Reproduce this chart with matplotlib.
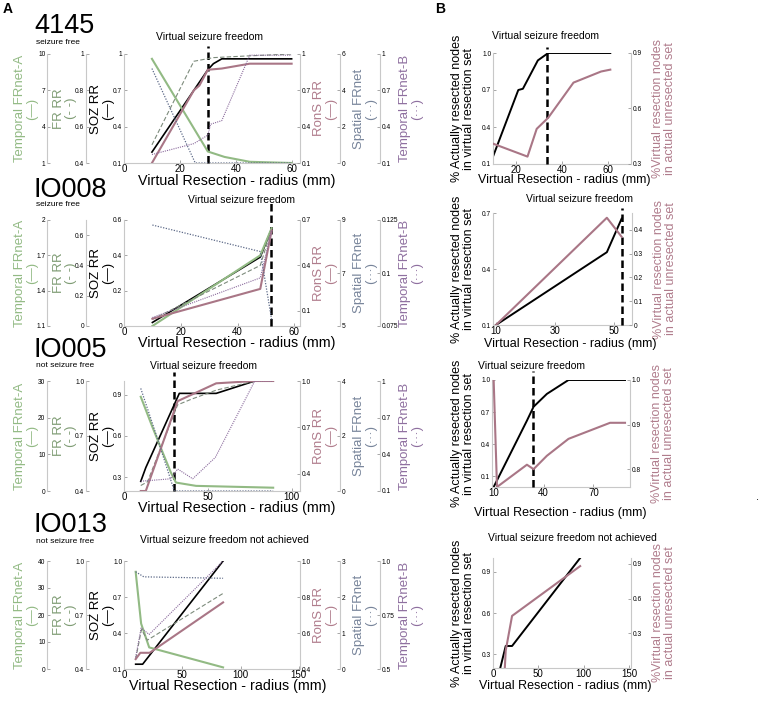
import matplotlib
matplotlib.use('Agg')
import matplotlib.pyplot as plt

W, H = 760, 701
plt.rcParams['font.family'] = ['Liberation Sans', 'DejaVu Sans']

# ---- colours
GREEN = '#92ba84'
FR_GREEN = '#7f9c74'
FR_LINE = '#7d8b7c'
MAUVE = '#b07c8c'
MAUVE_LINE = '#a97686'
SLATE = '#77849a'
SLATE_LINE = '#5d6a88'
PURPLE = '#8e6f9f'
PURPLE_LINE = '#8a6a9c'
SPINE = '#c8c8c8'

# ---- panel A, patient 4145
R1_X_TICKS = ['0', '20', '40', '60']
R1_SOZ_X = [10, 30, 32, 35, 60]
R1_SOZ_Y = [0.19, 0.87, 0.92, 0.96, 0.96]
R1_TA_X = [10, 30, 36, 45, 60]
R1_TA_Y = [9.6, 1.95, 1.5, 1.1, 1.0]
R1_FR_X = [10, 25, 32, 45, 60]
R1_FR_Y = [0.5, 0.96, 0.98, 0.99, 1.0]
R1_RONS_X = [10, 25, 27, 30, 35, 45, 60]
R1_RONS_Y = [0.1, 0.70, 0.74, 0.87, 0.88, 0.92, 0.92]
R1_SP_X = [10, 25.5, 60]
R1_SP_Y = [5.2, 0, 0]
R1_TB_X = [10, 25, 30, 31, 35, 45, 60]
R1_TB_Y = [0.17, 0.26, 0.33, 0.42, 0.45, 0.99, 0.99]
R1_TICKS_TA = ['1', '4', '7', '10']
R1_TICKS_FR = ['0.4', '0.6', '0.8', '1']
R1_TICKS_SOZ = ['0.1', '0.4', '0.7', '1']
R1_TICKS_RONS = ['0.1', '0.4', '0.7', '1']
R1_TICKS_SP = ['0', '2', '4', '6']
R1_TICKS_TB = ['0.1', '0.4', '0.7', '1']
R1_VLINE = 30

# ---- panel A, patient IO008
R2_X_TICKS = ['0', '20', '40', '60']
R2_SOZ_X = [10, 48, 52]
R2_SOZ_Y = [0.02, 0.39, 0.55]
R2_TA_X = [10, 48, 52]
R2_TA_Y = [1.1, 1.70, 1.93]
R2_FR_X = [10, 48, 52]
R2_FR_Y = [0.044, 0.40, 0.64]
R2_RONS_X = [10, 48, 52]
R2_RONS_Y = [0.048, 0.245, 0.63]
R2_SP_X = [10, 48, 52]
R2_SP_Y = [8.81, 7.81, 5.25]
R2_TB_X = [10, 48, 52]
R2_TB_Y = [0.079, 0.0977, 0.120]
R2_TICKS_TA = ['1.1', '1.4', '1.7', '2']
R2_TICKS_FR = ['0', '0.2', '0.4', '0.6']
R2_TICKS_SOZ = ['0', '0.2', '0.4', '0.6']
R2_TICKS_RONS = ['0.1', '0.4', '0.7']
R2_TICKS_SP = ['5', '7', '9']
R2_TICKS_TB = ['0.075', '0.1', '0.125']
R2_VLINE = 51.8

# ---- panel A, patient IO005
R3_X_TICKS = ['0', '50', '100']
R3_SOZ_X = [10, 13, 33, 55, 78, 89]
R3_SOZ_Y = [0.27, 0.37, 0.91, 0.91, 1.0, 1.0]
R3_TA_X = [10, 17, 23, 28, 31, 43, 89]
R3_TA_Y = [25.7, 17.4, 10.6, 5.0, 2.3, 1.4, 0.9]
R3_FR_X = [10, 14, 32, 40, 55, 78, 89]
R3_FR_Y = [0.43, 0.45, 0.87, 0.90, 0.95, 1.0, 1.0]
R3_RONS_X = [10, 13, 32, 55, 78, 89]
R3_RONS_Y = [0.29, 0.29, 0.87, 0.985, 1.0, 1.0]
R3_SP_X = [10, 20, 30, 89]
R3_SP_Y = [3.73, 1.9, 0, 0]
R3_TB_X = [10, 28, 32, 41, 54.5, 78, 89]
R3_TB_Y = [0.18, 0.20, 0.28, 0.20, 0.375, 1.0, 1.0]
R3_TICKS_TA = ['0', '10', '20', '30']
R3_TICKS_FR = ['0.4', '0.7', '1.0']
R3_TICKS_SOZ = ['0.3', '0.6', '0.9']
R3_TICKS_RONS = ['0.4', '0.7', '1.0']
R3_TICKS_SP = ['0', '2', '4']
R3_TICKS_TB = ['0.1', '0.4', '0.7', '1']
R3_VLINE = 29.9

# ---- panel A, patient IO013
R4_X_TICKS = ['0', '50', '100', '150']
R4_SOZ_X = [10, 16, 85]
R4_SOZ_Y = [0.14, 0.14, 1.0]
R4_TA_X = [10, 14.7, 21.6, 85]
R4_TA_Y = [36, 16.8, 8, 0.6]
R4_FR_X = [10, 15, 20, 85]
R4_FR_Y = [0.455, 0.62, 0.56, 0.82]
R4_RONS_X = [10, 14, 22, 85]
R4_RONS_Y = [0.455, 0.49, 0.49, 0.77]
R4_SP_X = [10, 17, 85]
R4_SP_Y = [2.7, 2.56, 2.52]
R4_TB_X = [10, 14.7, 21.6, 85]
R4_TB_Y = [0.554, 0.69, 0.66, 1.0]
R4_TICKS_TA = ['0', '10', '20', '30', '40']
R4_TICKS_FR = ['0.4', '0.7', '1.0']
R4_TICKS_SOZ = ['0.1', '0.4', '0.7', '1.0']
R4_TICKS_RONS = ['0.4', '0.6', '0.8', '1.0']
R4_TICKS_SP = ['0', '1', '2', '3']
R4_TICKS_TB = ['0.5', '0.75', '1.0']

# ---- panel B
B1_X_TICKS = ['20', '40', '60']
B1_ACT_X = [10, 21, 23, 29.5, 31, 34, 61]
B1_ACT_Y = [0.16, 0.70, 0.71, 0.94, 0.96, 1.0, 1.0]
B1_VIRT_X = [10, 25, 29, 34, 45, 57, 61]
B1_VIRT_Y = [0.41, 0.34, 0.49, 0.55, 0.74, 0.80, 0.81]
B1_TICKS_L = ['0.1', '0.4', '0.7', '1.0']
B1_TICKS_R = ['0.3', '0.6', '0.9']
B1_VLINE = 33.5

B2_X_TICKS = ['10', '30', '50']
B2_ACT_X = [10, 47.5, 52.5]
B2_ACT_Y = [0.1, 0.49, 0.67]
B2_VIRT_X = [10, 47.5, 52.5]
B2_VIRT_Y = [0, 0.45, 0.37]
B2_TICKS_L = ['0.1', '0.4', '0.7']
B2_TICKS_R = ['0', '0.1', '0.2', '0.3', '0.4']
B2_VLINE = 52.6

B3_X_TICKS = ['10', '40', '70']
B3_ACT_X = [10, 30, 34, 42, 55, 89]
B3_ACT_Y = [0.0, 0.62, 0.75, 0.87, 1.0, 1.0]
B3_VIRT_X = [10, 12, 30, 34, 42, 55, 80, 89]
B3_VIRT_Y = [1.0, 0.76, 0.81, 0.80, 0.83, 0.868, 0.904, 0.904]
B3_TICKS_L = ['0.1', '0.4', '0.7', '1.0']
B3_TICKS_R = ['0.8', '0.9', '1.0']
B3_VLINE = 33.6

B4_X_TICKS = ['0', '50', '100', '150']
B4_ACT_X = [8, 14, 21, 96]
B4_ACT_Y = [0.2, 0.36, 0.36, 1.0]
B4_VIRT_X = [13, 14, 21, 96]
B4_VIRT_Y = [0, 0.15, 0.45, 0.88]
B4_TICKS_L = ['0.3', '0.6', '0.9']
B4_TICKS_R = ['0.3', '0.6', '0.9']

fig = plt.figure(figsize=(W / 100, H / 100), dpi=100)


def px_axes(x0, y0, x1, y1):
    return fig.add_axes([x0 / W, 1 - y1 / H, (x1 - x0) / W, (y1 - y0) / H])


def ftext(x, y, s, **kw):
    return fig.text(x / W, 1 - y / H, s, **kw)


def set_ticks(a, ticks):
    a.set_yticks([float(t) for t in ticks], ticks)
    a.tick_params(axis='y', direction='in', length=2.5, width=0.6,
                  color='#999999', labelsize=4.8, pad=1.2)


def scale_axis(host, side, offset_px, lim, ticks):
    a = host.twinx()
    for s in a.spines.values():
        s.set_visible(False)
    sp = a.spines[side]
    sp.set_visible(True)
    sp.set_color(SPINE)
    sp.set_linewidth(0.8)
    sp.set_position(('outward', offset_px * 0.72))
    a.yaxis.set_ticks_position(side)
    a.set_ylim(*lim)
    set_ticks(a, ticks)
    return a


def base_axes(x0, top, x1, bot, xlim, xticks):
    ax = px_axes(x0, top, x1, bot)
    ax.patch.set_visible(False)
    for side in ['top', 'right']:
        ax.spines[side].set_visible(False)
    for side in ['left', 'bottom']:
        ax.spines[side].set_color(SPINE)
        ax.spines[side].set_linewidth(0.8)
    ax.set_xlim(*xlim)
    ax.set_xticks([float(t) for t in xticks], xticks)
    ax.tick_params(axis='x', direction='in', length=2.5, width=0.6,
                   color='#999999', labelsize=7, pad=1)
    return ax


def vline(ax, x, ymax):
    ax.axvline(x, ymin=0, ymax=ymax, color='black', lw=1.8,
               dashes=(3, 1.6), clip_on=False, zorder=5)


def draw_row(top, bot, xlim, xticks, soz, ta, fr, rons, sp, tb):
    ax = base_axes(124, top, 300, bot, xlim, xticks)
    ax.set_ylim(*soz[2])
    set_ticks(ax, soz[3])
    a_ta = scale_axis(ax, 'left', 77, ta[2], ta[3])
    a_fr = scale_axis(ax, 'left', 38, fr[2], fr[3])
    a_rons = scale_axis(ax, 'right', 0, rons[2], rons[3])
    a_sp = scale_axis(ax, 'right', 40, sp[2], sp[3])
    a_tb = scale_axis(ax, 'right', 80, tb[2], tb[3])
    a_sp.plot(sp[0], sp[1], color=SLATE_LINE, lw=0.9, dashes=(1, 1.2))
    a_tb.plot(tb[0], tb[1], color=PURPLE_LINE, lw=0.8, dashes=(1, 1))
    a_fr.plot(fr[0], fr[1], color=FR_LINE, lw=0.8, dashes=(4, 2))
    a_ta.plot(ta[0], ta[1], color=GREEN, lw=1.5)
    a_rons.plot(rons[0], rons[1], color=MAUVE_LINE, lw=1.5)
    ax.plot(soz[0], soz[1], color='black', lw=1.2)
    yc = (top + bot) / 2
    labels = [('Temporal FRnet-A\n(—)', 26, GREEN),
              ('FR RR\n(- -)', 65, FR_GREEN),
              ('SOZ RR\n(—)', 102, 'black'),
              ('RonS RR\n(—)', 325, MAUVE),
              ('Spatial FRnet\n(···)', 365, SLATE),
              ('Temporal FRnet-B\n(···)', 411, PURPLE)]
    for s, x, c in labels:
        ftext(x, yc, s, rotation=90, ha='center', va='center',
              multialignment='center', fontsize=9.5, color=c, linespacing=1.0)
    return ax, a_rons


def draw_b(x0, top, x1, bot, xlim, xticks, act, virt):
    ax = base_axes(x0, top, x1, bot, xlim, xticks)
    ax.set_ylim(*act[2])
    set_ticks(ax, act[3])
    ar = scale_axis(ax, 'right', 0, virt[2], virt[3])
    ar.plot(virt[0], virt[1], color=MAUVE_LINE, lw=1.5)
    ax.plot(act[0], act[1], color='black', lw=1.4)
    yc = (top + bot) / 2
    ftext(463, yc, '% Actually resected nodes\nin virtual resection set', rotation=90,
          ha='center', va='center', multialignment='center', fontsize=9, linespacing=1.0)
    ftext(x1 + 33, yc, '%Virtual resection nodes\nin actual unresected set', rotation=90,
          ha='center', va='center', multialignment='center', fontsize=9,
          color=MAUVE, linespacing=1.0)
    return ax, ar


# ---- panel A rows
ax1, _ = draw_row(54, 163, (0, 63), R1_X_TICKS,
                  (R1_SOZ_X, R1_SOZ_Y, (0.1, 1), R1_TICKS_SOZ),
                  (R1_TA_X, R1_TA_Y, (1, 10), R1_TICKS_TA),
                  (R1_FR_X, R1_FR_Y, (0.4, 1), R1_TICKS_FR),
                  (R1_RONS_X, R1_RONS_Y, (0.1, 1), R1_TICKS_RONS),
                  (R1_SP_X, R1_SP_Y, (0, 6), R1_TICKS_SP),
                  (R1_TB_X, R1_TB_Y, (0.1, 1), R1_TICKS_TB))
vline(ax1, R1_VLINE, 1.07)

ax2, _ = draw_row(220, 326, (0, 62), R2_X_TICKS,
                  (R2_SOZ_X, R2_SOZ_Y, (0, 0.6), R2_TICKS_SOZ),
                  (R2_TA_X, R2_TA_Y, (1.1, 2), R2_TICKS_TA),
                  (R2_FR_X, R2_FR_Y, (0, 0.7), R2_TICKS_FR),
                  (R2_RONS_X, R2_RONS_Y, (0, 0.7), R2_TICKS_RONS),
                  (R2_SP_X, R2_SP_Y, (5, 9), R2_TICKS_SP),
                  (R2_TB_X, R2_TB_Y, (0.075, 0.125), R2_TICKS_TB))
vline(ax2, R2_VLINE, 1.16)

ax3, _ = draw_row(381, 491, (0, 105), R3_X_TICKS,
                  (R3_SOZ_X, R3_SOZ_Y, (0.2, 1.0), R3_TICKS_SOZ),
                  (R3_TA_X, R3_TA_Y, (0, 30), R3_TICKS_TA),
                  (R3_FR_X, R3_FR_Y, (0.4, 1.0), R3_TICKS_FR),
                  (R3_RONS_X, R3_RONS_Y, (0.29, 1.0), R3_TICKS_RONS),
                  (R3_SP_X, R3_SP_Y, (0, 4), R3_TICKS_SP),
                  (R3_TB_X, R3_TB_Y, (0.1, 1), R3_TICKS_TB))
vline(ax3, R3_VLINE, 1.08)

ax4, _ = draw_row(561, 669, (0, 151), R4_X_TICKS,
                  (R4_SOZ_X, R4_SOZ_Y, (0.1, 1.0), R4_TICKS_SOZ),
                  (R4_TA_X, R4_TA_Y, (0, 40), R4_TICKS_TA),
                  (R4_FR_X, R4_FR_Y, (0.4, 1.0), R4_TICKS_FR),
                  (R4_RONS_X, R4_RONS_Y, (0.4, 1.0), R4_TICKS_RONS),
                  (R4_SP_X, R4_SP_Y, (0, 3), R4_TICKS_SP),
                  (R4_TB_X, R4_TB_Y, (0.5, 1.0), R4_TICKS_TB))

# ---- panel B rows
bx1, _ = draw_b(493, 53, 631, 164, (10, 70), B1_X_TICKS,
                (B1_ACT_X, B1_ACT_Y, (0.1, 1.0), B1_TICKS_L),
                (B1_VIRT_X, B1_VIRT_Y, (0.3, 0.9), B1_TICKS_R))
vline(bx1, B1_VLINE, 1.05)
bx2, _ = draw_b(493, 213, 632, 325, (9, 56), B2_X_TICKS,
                (B2_ACT_X, B2_ACT_Y, (0.1, 0.7), B2_TICKS_L),
                (B2_VIRT_X, B2_VIRT_Y, (0, 0.47), B2_TICKS_R))
vline(bx2, B2_VLINE, 1.045)
bx3, _ = draw_b(492, 380, 630, 487, (9, 92), B3_X_TICKS,
                (B3_ACT_X, B3_ACT_Y, (0.0, 1.0), B3_TICKS_L),
                (B3_VIRT_X, B3_VIRT_Y, (0.76, 1.0), B3_TICKS_R))
vline(bx3, B3_VLINE, 1.08)
bx4, _ = draw_b(493, 558, 631, 668, (0, 152), B4_X_TICKS,
                (B4_ACT_X, B4_ACT_Y, (0.2, 1.0), B4_TICKS_L),
                (B4_VIRT_X, B4_VIRT_Y, (0, 0.95), B4_TICKS_R))

# ---- text
XLAB = 'Virtual Resection - radius (mm)'
for x, y, fs in [(237, 181, 10.3), (237, 343, 10.3), (237, 508, 10.3), (228, 686, 10.3),
                 (564, 180, 9), (570, 344, 9), (560, 513, 9), (565, 686, 9)]:
    ftext(x, y, XLAB, ha='center', va='center', fontsize=fs)

for x, y, s in [(209, 37, 'Virtual seizure freedom'), (242, 200, 'Virtual seizure freedom'),
                (204, 366, 'Virtual seizure freedom'), (224, 540, 'Virtual seizure freedom not achieved'),
                (545, 36, 'Virtual seizure freedom'), (579, 199, 'Virtual seizure freedom'),
                (532, 366, 'Virtual seizure freedom'), (572, 538, 'Virtual seizure freedom not achieved')]:
    ftext(x, y, s, ha='center', va='center', fontsize=7.5)

for y, name, y2, status in [(33, '4145', 44, 'seizure free'), (197, 'IO008', 206, 'seizure free'),
                            (357, 'IO005', 367, 'not seizure free'),
                            (532, 'IO013', 543, 'not seizure free')]:
    ftext(34, y, name, ha='left', va='baseline', fontsize=19.5)
    ftext(36, y2, status, ha='left', va='baseline', fontsize=6)

ftext(3, 9, 'A', ha='left', va='center', fontsize=10, fontweight='bold')
ftext(435, 9, 'B', ha='left', va='center', fontsize=10, fontweight='bold')
ftext(756, 497, '.', ha='left', va='center', fontsize=8)

fig.savefig('out.png', dpi=100)
